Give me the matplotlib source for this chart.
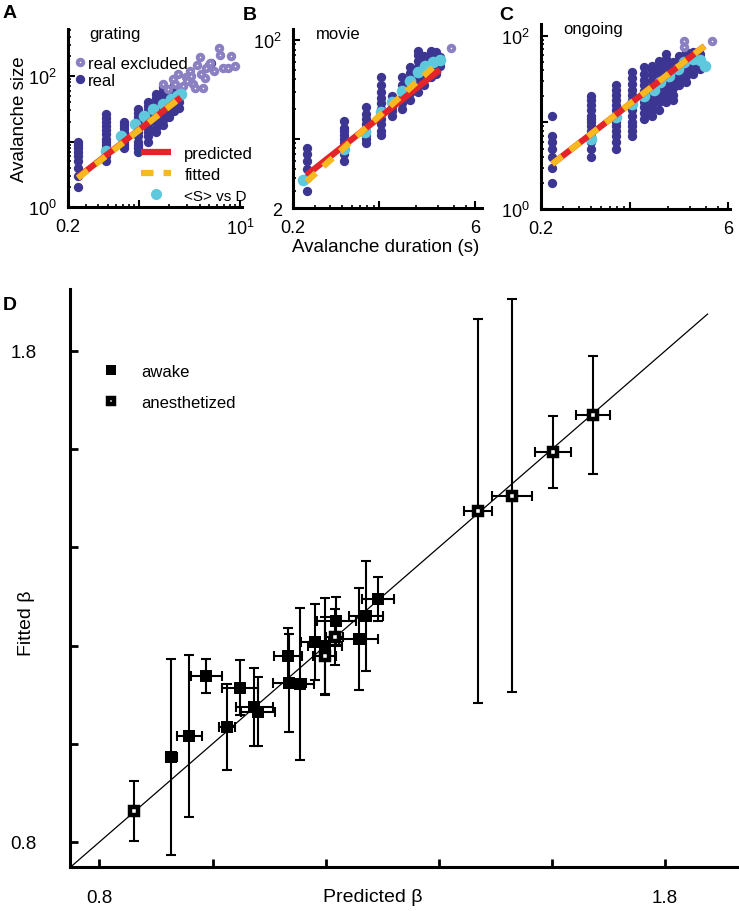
import matplotlib
matplotlib.use('Agg')
import matplotlib.pyplot as plt
from matplotlib.lines import Line2D
from matplotlib.ticker import NullFormatter, LogLocator
import numpy as np

plt.rcParams['font.family'] = ['Liberation Sans', 'DejaVu Sans']
plt.rcParams['mathtext.fontset'] = 'custom'
plt.rcParams['mathtext.rm'] = 'Liberation Sans'

# colours
REAL = '#3c3692'
EXCL = '#8a80c2'
MEAN = '#5ec9dc'
PRED = '#e5242a'
FIT = '#f8b820'

# ---- panel A: grating ----
grating_dur = [0.25, 0.48, 0.72, 0.98, 1.24, 1.49, 1.75, 2.0, 2.25, 2.5, 5.0, 5.2]
grating_sizes = [[2, 3, 4, 5, 6, 7, 8, 9, 10],
                 [5, 6, 7, 8, 9, 10, 11, 13, 15, 17, 20, 23, 26],
                 [8, 9, 10, 12, 14, 16, 18, 20],
                 [7, 8, 9, 10, 12, 14, 16, 18, 21, 24, 27, 31],
                 [10, 12, 14, 16, 19, 22, 26, 30, 35, 40],
                 [14, 16, 19, 22, 26, 30, 35, 40, 46, 53],
                 [18, 21, 25, 29, 34, 40, 46, 53, 60, 68],
                 [24, 28, 33, 38, 44, 50, 59],
                 [29, 34, 40, 46, 54, 62, 72],
                 [33, 40, 48, 57, 67],
                 [150],
                 [160]]
grating_excl_dur = [1.73, 1.94, 2.18, 2.3, 2.44, 2.58, 2.74, 2.95, 3.0, 3.23, 3.3, 3.43, 3.6,
                    3.8, 3.99, 4.15, 4.31, 4.5, 4.65, 5.09, 5.5, 6.2, 6.4, 6.8, 7.6, 8.2, 8.9]
grating_excl_size = [77, 63, 90, 75, 107, 60, 71, 96, 85, 121, 100, 77, 65,
                     150, 193, 107, 67, 95, 135, 156, 120, 269, 211, 135, 135, 204, 144]
grating_mean_dur = [0.475, 0.67, 0.91, 1.13, 1.39, 1.75, 2.09, 2.4, 2.6]
grating_mean_size = [7.2, 12, 18.5, 24.5, 31, 37, 44, 49.5, 53]
grating_pred = (15.0, 1.20)
grating_fit = (14.8, 1.21)

# ---- panel B: movie ----
movie_dur = [0.258, 0.52, 0.776, 1.03, 1.27, 1.52, 1.77, 2.05, 2.31, 2.6, 2.89, 3.11]
movie_sizes = [[3, 4, 5, 6, 7, 8],
               [6, 7, 8, 9, 10, 11, 12, 13, 15],
               [9, 10, 11, 12, 14, 16, 18, 21],
               [11, 12, 14, 16, 18, 20, 23, 26, 30, 35, 42],
               [17, 19, 21, 24, 27],
               [20, 23, 26, 30, 35, 42],
               [25, 29, 34, 40, 46, 53],
               [30, 35, 40, 46, 53, 61, 70, 77],
               [35, 40, 46, 53, 61, 69],
               [42, 48, 55, 63, 70, 77],
               [45, 52, 60, 68, 76],
               [54, 61, 68]]
movie_excl_dur = [3.83]
movie_excl_size = [83]
movie_mean_dur = [0.24, 0.52, 0.76, 1.03, 1.27, 1.52, 1.77, 2.05, 2.36, 2.7, 3.1]
movie_mean_size = [3.8, 7.9, 11.7, 18.7, 23.5, 30.7, 38.8, 47, 55, 59.5, 62]
movie_pred = (16.4, 0.986)
movie_fit = (17.1, 1.128)

# ---- panel C: ongoing ----
ongoing_dur = [0.245, 0.5, 0.776, 1.05, 1.29, 1.51, 1.70, 1.93, 2.18, 2.47, 2.79, 3.16, 3.57]
ongoing_sizes = [[2, 3, 4, 5, 6, 7, 12],
                 [4, 5, 6, 7, 8, 9, 10, 11, 12, 14, 16, 18, 20],
                 [5, 6, 7, 8, 9, 10, 12, 14, 16, 18, 21, 24, 27],
                 [7, 8, 9, 10, 12, 14, 16, 18, 21, 24, 28, 33, 38],
                 [11, 13, 15, 17, 20, 23, 27, 31, 36, 44],
                 [12, 14, 16, 19, 22, 26, 30, 35, 40, 45],
                 [14, 17, 20, 23, 27, 32, 37, 43, 51],
                 [17, 20, 24, 28, 33, 39, 46, 54, 62],
                 [18, 21, 25, 30, 35, 42, 50],
                 [27, 32, 38, 44, 52, 59],
                 [29, 34, 40, 47, 55, 65],
                 [36, 42, 49, 57, 65],
                 [41, 48, 56, 62]]
ongoing_excl_dur = [2.71, 2.71, 4.45]
ongoing_excl_size = [88, 74, 88]
ongoing_mean_dur = [0.5, 0.78, 1.04, 1.29, 1.55, 1.73, 2.03, 2.39, 2.71, 3.16, 3.57, 3.9]
ongoing_mean_size = [6.4, 11.5, 16.4, 20.4, 23.4, 29.2, 34.8, 41.5, 49.5, 54, 52, 45]
ongoing_pred = (16.3, 1.133)
ongoing_fit = (16.3, 1.133)

# ---- panel D ----
awake_pred = [0.927, 0.959, 0.989, 1.025, 1.048, 1.074, 1.080, 1.133, 1.136, 1.154,
              1.181, 1.198, 1.219, 1.258, 1.271, 1.292]
awake_fit = [0.973, 1.016, 1.138, 1.034, 1.114, 1.075, 1.065, 1.179, 1.124, 1.122,
             1.207, 1.199, 1.250, 1.213, 1.260, 1.295]
awake_pred_err = [0.01, 0.022, 0.027, 0.014, 0.032, 0.032, 0.03, 0.025, 0.03, 0.025,
                  0.025, 0.03, 0.035, 0.035, 0.03, 0.028]
awake_fit_err = [0.20, 0.165, 0.035, 0.088, 0.056, 0.08, 0.07, 0.057, 0.10, 0.155,
                 0.078, 0.098, 0.049, 0.104, 0.112, 0.045]
anest_pred = [0.862, 1.198, 1.216, 1.469, 1.529, 1.602, 1.673]
anest_fit = [0.863, 1.179, 1.218, 1.474, 1.505, 1.594, 1.670]
anest_pred_err = [0.0, 0.02, 0.015, 0.025, 0.035, 0.032, 0.030]
anest_fit_err = [0.061, 0.08, 0.057, 0.39, 0.40, 0.073, 0.12]
beta_ticks = [0.8, 1.0, 1.2, 1.4, 1.6, 1.8]
beta_ticklabels = ['0.8', '', '', '', '', '1.8']
diag_end = 1.875


def expand(durs, sizes):
    xs, ys = [], []
    for d, col in zip(durs, sizes):
        xs += [d] * len(col)
        ys += col
    return xs, ys


def power_line(ax, params, x0, x1, **kw):
    a, b = params
    x = np.logspace(np.log10(x0), np.log10(x1), 50)
    return ax.plot(x, a * x ** b, **kw)


def top_panel(ax, durs, sizes, ex_d, ex_s, m_d, m_s, pred, fit, xlim, ylim,
              xt, xtl, yt, ytl, title):
    xs, ys = expand(durs, sizes)
    ax.scatter(xs, ys, s=45, color=REAL, linewidths=0, zorder=2)
    ax.scatter(ex_d, ex_s, s=16, facecolor='white', edgecolor=EXCL, linewidths=2.8, zorder=2)
    ax.scatter(m_d, m_s, s=70, color=MEAN, linewidths=0, zorder=3)
    x0, x1 = min(xs), max(m_d)
    power_line(ax, pred, x0, x1, color=PRED, lw=4.5, solid_capstyle='butt', zorder=4)
    power_line(ax, fit, x0, x1, color=FIT, lw=4.5, ls=(0, (2, 1.6)), dash_capstyle='butt', zorder=5)
    ax.set_xscale('log')
    ax.set_yscale('log')
    ax.set_xlim(*xlim)
    ax.set_ylim(*ylim)
    for s in ['top', 'right']:
        ax.spines[s].set_visible(False)
    for s in ['left', 'bottom']:
        ax.spines[s].set_linewidth(2.2)
    ax.xaxis.set_minor_locator(LogLocator(subs=np.arange(2, 10)))
    ax.yaxis.set_minor_locator(LogLocator(subs=np.arange(2, 10)))
    ax.xaxis.set_minor_formatter(NullFormatter())
    ax.yaxis.set_minor_formatter(NullFormatter())
    ax.set_xticks(xt)
    ax.set_xticklabels(xtl)
    ax.set_yticks(yt)
    ax.set_yticklabels(ytl)
    ax.tick_params(which='major', direction='in', length=5, width=1.5, labelsize=13, pad=8)
    ax.tick_params(which='minor', direction='in', length=2.5, width=1.2)
    ax.text(0.12, 0.975, title, transform=ax.transAxes, fontsize=12, va='center', ha='left')


fig = plt.figure(figsize=(7.39, 9.12), dpi=100)

axA = fig.add_axes([0.0920, 0.7719, 0.2355, 0.1952])
axB = fig.add_axes([0.3965, 0.7708, 0.2558, 0.1963])
axC = fig.add_axes([0.7321, 0.7697, 0.2558, 0.2029])
axD = fig.add_axes([0.0947, 0.0482, 0.9026, 0.6338])

p10 = [r'$\mathregular{10^0}$', r'$\mathregular{10^1}$', r'$\mathregular{10^2}$']
top_panel(axA, grating_dur, grating_sizes, grating_excl_dur, grating_excl_size,
          grating_mean_dur, grating_mean_size, grating_pred, grating_fit,
          (0.2, 10.5), (1, 525), [0.2, 1, 10], ['0.2', '', p10[1]],
          [1, 10, 100], [p10[0], '', p10[2]], 'grating')
top_panel(axB, movie_dur, movie_sizes, movie_excl_dur, movie_excl_size,
          movie_mean_dur, movie_mean_size, movie_pred, movie_fit,
          (0.2, 6.8), (2, 129), [0.2, 1, 6], ['0.2', '', '6'],
          [2, 10, 100], ['2', '', p10[2]], 'movie')
top_panel(axC, ongoing_dur, ongoing_sizes, ongoing_excl_dur, ongoing_excl_size,
          ongoing_mean_dur, ongoing_mean_size, ongoing_pred, ongoing_fit,
          (0.2, 6.2), (1, 137), [0.2, 1, 6], ['0.2', '', '6'],
          [1, 10, 100], [p10[0], '', p10[2]], 'ongoing')

axA.set_ylabel('Avalanche size', fontsize=13.5)
axA.yaxis.set_label_coords(-0.23, 0.5)
axB.set_xlabel('Avalanche duration (s)', fontsize=13.5)
axB.xaxis.set_label_coords(0.49, -0.17)

# legends in panel A
h1 = [Line2D([], [], ls='none', marker='o', ms=4, mfc='white', mec=EXCL, mew=2.8),
      Line2D([], [], ls='none', marker='o', ms=6.7, mfc=REAL, mec=REAL, mew=0)]
leg1 = axA.legend(h1, ['real excluded', 'real'], loc='upper left', bbox_to_anchor=(0.04, 0.85),
                  frameon=False, fontsize=12, handlelength=0.6, handletextpad=0.2,
                  labelspacing=0.15, borderpad=0, borderaxespad=0)
axA.add_artist(leg1)
h2 = [Line2D([], [], color=PRED, lw=4.5, solid_capstyle='butt'),
      Line2D([], [], color=FIT, lw=4.5, ls=(0, (2, 1.6)), dash_capstyle='butt'),
      Line2D([], [], ls='none', marker='o', ms=8, mfc=MEAN, mec=MEAN, mew=0)]
leg2 = axA.legend(h2, ['predicted', 'fitted', '<S> vs D'], loc='upper left',
                  bbox_to_anchor=(0.42, 0.345), frameon=False, fontsize=12,
                  handlelength=1.8, handletextpad=0.8, labelspacing=0.38,
                  borderpad=0, borderaxespad=0)
for t in leg2.get_texts()[2:]:
    t.set_fontsize(11)

# panel D
lo = 0.748
axD.plot([lo, diag_end], [lo, diag_end], color='black', lw=0.9, zorder=1)
axD.errorbar(awake_pred, awake_fit, xerr=awake_pred_err, yerr=awake_fit_err, fmt='none',
             ecolor='black', elinewidth=1.5, capsize=3.6, capthick=1.5, zorder=2)
axD.errorbar(anest_pred, anest_fit, xerr=anest_pred_err, yerr=anest_fit_err, fmt='none',
             ecolor='black', elinewidth=1.5, capsize=3.6, capthick=1.5, zorder=2)
axD.plot(awake_pred, awake_fit, 's', ms=9, color='black', mew=0, label='awake', zorder=3)
axD.plot(anest_pred, anest_fit, 's', ms=6.2, mfc='white', mec='black', mew=3.2,
         label='anesthetized', zorder=3)
axD.set_xlim(lo, 1.927)
axD.set_ylim(0.749, 1.926)
for s in ['top', 'right']:
    axD.spines[s].set_visible(False)
for s in ['left', 'bottom']:
    axD.spines[s].set_linewidth(2.2)
axD.set_xticks(beta_ticks)
axD.set_xticklabels(beta_ticklabels)
axD.set_yticks(beta_ticks)
axD.set_yticklabels(beta_ticklabels)
axD.tick_params(axis='x', direction='in', length=6, width=2, labelsize=13.5, pad=16)
axD.tick_params(axis='y', direction='in', length=6, width=2, labelsize=13.5, pad=24)
axD.set_xlabel('Predicted β', fontsize=14)
axD.xaxis.set_label_coords(0.454, -0.036)
axD.set_ylabel('Fitted β', fontsize=14)
axD.yaxis.set_label_coords(-0.052, 0.424)
axD.legend(loc='upper left', bbox_to_anchor=(0.052, 0.87), frameon=False, fontsize=12,
           handlelength=0.8, handletextpad=1.4, labelspacing=0.95, markerscale=0.8,
           borderpad=0, borderaxespad=0)

# panel letters
for lab, x, y in [('A', 10, 14), ('B', 250, 15), ('C', 506, 15), ('D', 10, 306)]:
    fig.text(x / 739, 1 - y / 912, lab, fontsize=14, fontweight='bold', ha='center', va='center')

fig.savefig('out.png', dpi=100)
